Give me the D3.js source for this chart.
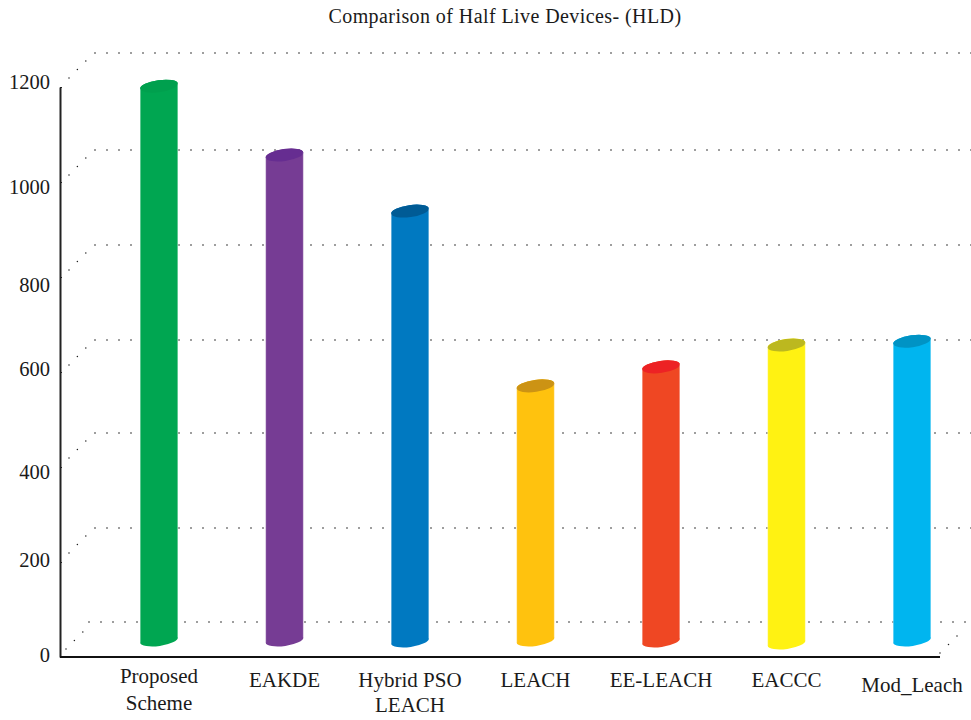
<!DOCTYPE html>
<html>
<head>
<meta charset="utf-8">
<script src="https://cdn.jsdelivr.net/npm/d3@7/dist/d3.min.js"></script>
<style>
html,body{margin:0;padding:0;background:#fff}
text{font-family:"Liberation Serif",serif;fill:#1a1a1a}
</style>
</head>
<body>
<svg id="chart" width="971" height="720"></svg>
<script>
// Chart data
const title = "Comparison of Half Live Devices- (HLD)";
const categories = ["Proposed Scheme","EAKDE","Hybrid PSO LEACH","LEACH","EE-LEACH","EACCC","Mod_Leach"];
const halfLiveDevices = [1166,1021,903,535,575,621,629];
const tickValues = [0,200,400,600,800,1000,1200];
const sideColors = ["#00a651","#763c94","#0079c1","#ffc20e","#ef4723","#fff212","#00b5ef"];
const capColors = ["#00a04e","#662d91","#005b95","#cc9314","#ed2224","#bcb81f","#0093c4"];

// Wrapped category labels
const labelLines = [["Proposed","Scheme"],["EAKDE"],["Hybrid PSO","LEACH"],["LEACH"],["EE-LEACH"],["EACCC"],["Mod_Leach"]];

// Layout
const svg = d3.select("#chart");
const x = d3.scalePoint().domain(categories).range([159,912]);
const y = d3.scaleLinear().domain([0,1200]).range([657,87]);
const depth = {dx:35, dy:-34};
const midDepth = 17;
const tilt = -8;
const rx = 19, ry = 6;
const tiltRad = tilt*Math.PI/180;
const baseNudge = [0,0,1,0,1,3,0];
const labelBaseline = [[683,710],[687],[687,712],[687],[687],[687],[692]];
const tickNudge = {0:-2,200:-2,400:5,600:-3,800:8,1000:5,1200:-5};
const gridNudge = {0:-1,200:0,400:0,600:2,800:2,1000:2,1200:0};

// Back wall: dotted gridlines and the diagonals joining them to the axis
const dotted = svg.append("g").attr("fill","#222");
function dotRow(x0,x1,yy,step){
  d3.range(x0,x1,step).forEach(px=>dotted.append("circle").attr("cx",px).attr("cy",yy).attr("r",0.8));
}
tickValues.forEach(v=>{
  const yy = y(v);
  const startX = v===0 ? 89 : 95;
  dotRow(startX,973,yy+depth.dy+gridNudge[v],12);
  const first = v===0 ? 66 : 69;
  d3.range(0,3).forEach(i=>{
    dotted.append("circle").attr("cx",first+i*8.4).attr("cy",yy-(v===0?7:9)-i*8.5+gridNudge[v]).attr("r",0.75);
  });
});
// Right-hand diagonal from the end of the floor
d3.range(0,3).forEach(i=>{
  dotted.append("circle").attr("cx",940+i*8.5).attr("cy",y(0)-4-i*8.5).attr("r",0.75);
});

// Cylinders
const cyl = svg.append("g").selectAll("g").data(categories).join("g");
cyl.each(function(c,i){
  const g = d3.select(this);
  const cx = x(c);
  const topY = y(halfLiveDevices[i]) - midDepth;
  const botY = y(0) - midDepth + baseNudge[i];
  const ex = rx*Math.cos(tiltRad), ey = rx*Math.sin(tiltRad);
  const side = `M${cx-ex},${topY-ey} L${cx-ex},${botY-ey} A${rx},${ry} ${tilt} 0 0 ${cx+ex},${botY+ey} L${cx+ex},${topY+ey} A${rx},${ry} ${tilt} 0 0 ${cx-ex},${topY-ey} Z`;
  g.append("path").attr("d",side).attr("fill",sideColors[i]);
  g.append("ellipse")
    .attr("cx",cx).attr("cy",topY).attr("rx",rx).attr("ry",ry)
    .attr("transform",`rotate(${tilt} ${cx} ${topY})`)
    .attr("fill",capColors[i]);
  // Pale rim along each side of the cylinder
  [-1,1].forEach(s=>{
    g.append("line")
      .attr("x1",cx+s*ex).attr("x2",cx+s*ex)
      .attr("y1",topY+s*ey).attr("y2",botY+s*ey)
      .attr("stroke","#fff").attr("stroke-opacity",0.35).attr("stroke-width",1);
  });
});

// Value axis
const yAxis = d3.axisLeft(y).tickValues(tickValues).tickFormat(d3.format("d"))
  .tickSizeInner(-2).tickSizeOuter(0).tickPadding(10);
const yG = svg.append("g").attr("transform","translate(60,0)").call(yAxis);
yG.select(".domain").attr("stroke","#222").attr("stroke-width",2);
yG.selectAll(".tick line").attr("stroke","#222");
yG.selectAll(".tick text")
  .attr("font-size",20.5)
  .attr("font-family","Liberation Serif")
  .attr("fill","#1a1a1a")
  .attr("y",d=>tickNudge[d]);

// Floor line
svg.append("line").attr("x1",60).attr("x2",940).attr("y1",y(0)).attr("y2",y(0))
  .attr("stroke","#111").attr("stroke-width",2);

// Category labels
svg.append("g").selectAll("text").data(categories).join("text")
  .attr("text-anchor","middle").attr("font-size",21)
  .each(function(c,i){
    const t = d3.select(this);
    labelLines[i].forEach((line,j)=>{
      t.append("tspan").attr("x",x(c)).attr("y",labelBaseline[i][j]).text(line);
    });
  });

// Title
svg.append("text").attr("x",505).attr("y",23).attr("text-anchor","middle").attr("font-size",20)
  .attr("letter-spacing",0.42).text(title);
</script>
</body>
</html>
